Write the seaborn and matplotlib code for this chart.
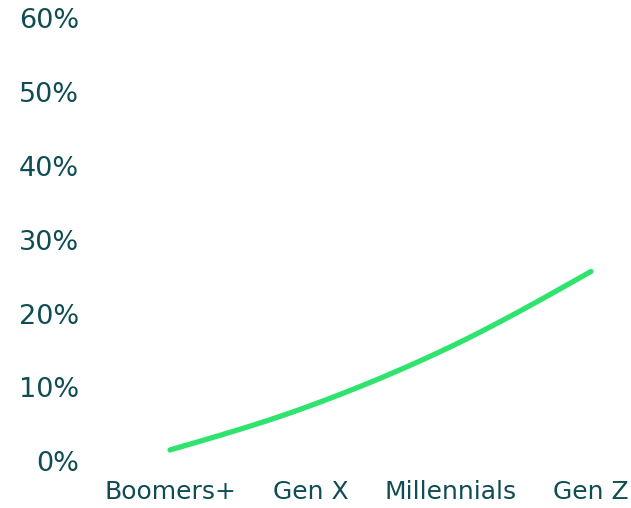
import numpy as np
import pandas as pd
import matplotlib
matplotlib.use("Agg")
import matplotlib.pyplot as plt
import seaborn as sns

# Share of each generation (percent)
generations = ["Boomers+", "Gen X", "Millennials", "Gen Z"]
share_pct = [1.5, 7.5, 15.5, 25.7]
y_ticks = [0, 10, 20, 30, 40, 50, 60]
y_tick_labels = ["0%", "10%", "20%", "30%", "40%", "50%", "60%"]

LINE_COLOR = "#2ee46e"
TEXT_COLOR = "#0f4c54"


def monotone_curve(y, samples=40):
    """Monotone cubic (Fritsch-Carlson style) path through evenly spaced points."""
    y = np.asarray(y, dtype=float)
    n = len(y)
    s = np.diff(y)
    m = np.zeros(n)
    for i in range(1, n - 1):
        p = 0.5 * (s[i - 1] + s[i])
        m[i] = (np.sign(s[i - 1]) + np.sign(s[i])) * min(abs(s[i - 1]), abs(s[i]), 0.5 * abs(p))
    m[0] = (3 * s[0] - m[1]) / 2
    m[-1] = (3 * s[-1] - m[-2]) / 2
    xs, ys = [], []
    for i in range(n - 1):
        t = np.linspace(0, 1, samples, endpoint=(i == n - 2))
        h00 = 2 * t**3 - 3 * t**2 + 1
        h10 = t**3 - 2 * t**2 + t
        h01 = -2 * t**3 + 3 * t**2
        h11 = t**3 - t**2
        xs.append(i + t)
        ys.append(h00 * y[i] + h10 * m[i] + h01 * y[i + 1] + h11 * m[i + 1])
    return np.concatenate(xs), np.concatenate(ys)


sns.set_theme(style="white")
plt.rcParams["font.family"] = ["DejaVu Sans"]

W, H = 631, 508
fig = plt.figure(figsize=(W / 100, H / 100), dpi=100)

left_px, right_px = 90, 631
bottom_px, top_px = 47, 489.5
ax = fig.add_axes([left_px / W, bottom_px / H, (right_px - left_px) / W, (top_px - bottom_px) / H])

cx, cy = monotone_curve(share_pct)
curve = pd.DataFrame({"pos": cx, "share": cy})
sns.lineplot(data=curve, x="pos", y="share", ax=ax, color=LINE_COLOR,
             linewidth=3.8, solid_capstyle="round", solid_joinstyle="round")

# category positions: first at 170px, spacing ~140.3px
unit = 140.33
ax.set_xlim((left_px - 170) / unit, (right_px - 170) / unit)
ax.set_ylim(0, 60)

ax.set_xticks(range(len(generations)))
ax.set_xticklabels(generations)
ax.set_yticks(y_ticks)
ax.set_yticklabels(y_tick_labels)
ax.set_xlabel("")
ax.set_ylabel("")

ax.tick_params(axis="both", length=0, labelcolor=TEXT_COLOR)
ax.tick_params(axis="y", pad=8, labelsize=19.5)
ax.tick_params(axis="x", pad=14, labelsize=18)

for sp in ax.spines.values():
    sp.set_visible(False)
ax.grid(False)
ax.patch.set_alpha(0)

fig.savefig("out.png", dpi=100, facecolor="white")
